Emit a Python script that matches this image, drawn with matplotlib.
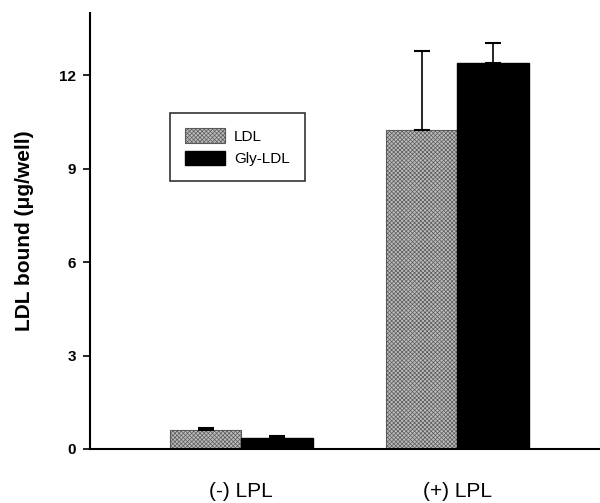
import numpy as np
import matplotlib
matplotlib.use('Agg')
import matplotlib.pyplot as plt

plt.rcParams['font.family'] = ['Liberation Sans', 'DejaVu Sans']
plt.rcParams['hatch.linewidth'] = 0.5

# data
groups = ['(-) LPL', '(+) LPL']
series = ['LDL', 'Gly-LDL']
ldl = [0.62, 10.23]
ldl_err = [0.06, 2.55]
gly = [0.35, 12.38]
gly_err = [0.08, 0.66]

fig = plt.figure(figsize=(6.0, 5.03), dpi=100)
ax = fig.add_axes([90/600, 1 - 449/503, 510/600, 436/503])

x = np.arange(len(groups))
w = 0.33
ax.bar(x - w/2, ldl, w, color='#bdbdbd', edgecolor='#5a5a5a', hatch='xxxxxxxx',
       linewidth=0.8, label=series[0],
       yerr=[np.zeros(len(ldl)), ldl_err], capsize=6,
       error_kw=dict(elinewidth=1.2, capthick=1.5, ecolor='black'))
ax.bar(x + w/2, gly, w, color='black', edgecolor='black', label=series[1],
       yerr=[np.zeros(len(gly)), gly_err], capsize=6,
       error_kw=dict(elinewidth=1.2, capthick=1.5, ecolor='black'))

ax.set_xlim(-0.70, 1.66)
ax.set_ylim(0, 14)
ax.set_yticks([0, 3, 6, 9, 12])
ax.set_xticks(x)
ax.set_xticklabels(groups, fontsize=15)
ax.tick_params(axis='x', length=0, pad=24)
ax.tick_params(axis='y', length=5, width=1.2, labelsize=11, pad=5)
for t in ax.get_yticklabels():
    t.set_fontweight('bold')

ax.spines['top'].set_visible(False)
ax.spines['right'].set_visible(False)
ax.spines['left'].set_linewidth(1.5)
ax.spines['bottom'].set_linewidth(1.5)

ax.set_ylabel('LDL bound (\u03bcg/well)', fontsize=15, fontweight='bold', labelpad=18)

leg = ax.legend(loc='upper left', bbox_to_anchor=(0.157, 0.771), borderaxespad=0,
                frameon=True, fancybox=False, edgecolor='black', fontsize=11,
                handlelength=2.6, handleheight=1.1, handletextpad=0.6,
                borderpad=1.0, labelspacing=0.45)
leg.get_frame().set_linewidth(1.2)

fig.savefig('out.png', dpi=100)
